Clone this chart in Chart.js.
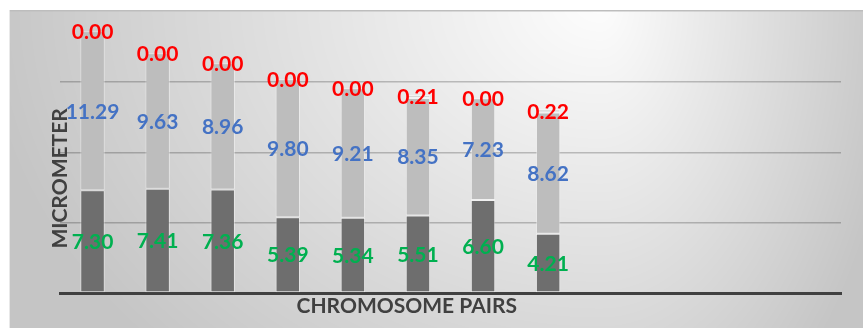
<!DOCTYPE html>
<html>
<head>
<meta charset="utf-8">
<script src="https://cdn.jsdelivr.net/npm/chart.js@4/dist/chart.umd.min.js"></script>
<style>
  html, body { margin: 0; padding: 0; background: #ffffff; }
  #wrap { width: 863px; height: 328px; }
</style>
</head>
<body>
<div id="wrap"><canvas id="chart" width="863" height="328"></canvas></div>
<script>
// Chromosome pairs on the category axis (room is left for 12 slots, 8 measured)
const pairs = ['1', '2', '3', '4', '5', '6', '7', '8', '9', '10', '11', '12'];

// Arm lengths in micrometres, one value per chromosome pair
const shortArm = [7.30, 7.41, 7.36, 5.39, 5.34, 5.51, 6.60, 4.21];
const longArm = [11.29, 9.63, 8.96, 9.80, 9.21, 8.35, 7.23, 8.62];
const satellite = [0.00, 0.00, 0.00, 0.00, 0.00, 0.21, 0.00, 0.22];

// Value axis range and step
const yMin = 0;
const yMax = 20;
const yStep = 5;

const LABEL_FONT = 'bold 21px Lato, "Open Sans", sans-serif';
const TITLE_FONT = 'bold 21px Lato, "Open Sans", sans-serif';

// Grey panel with a soft light spot near the upper right
const panelBackground = {
  id: 'panelBackground',
  beforeDraw(chart) {
    const ctx = chart.ctx;
    const W = chart.width, H = chart.height;
    const img = ctx.createImageData(W, H);
    const d = img.data;
    const x0 = 9, y0 = 10;
    const cx = 600, cy = 0;
    const light = 253, dark = 197;
    for (let y = 0; y < H; y++) {
      for (let x = 0; x < W; x++) {
        const i = (y * W + x) * 4;
        let v = 255;
        if (x >= x0 && y >= y0) {
          const dx = (x - cx) / (x < cx ? 620 : 300);
          const dy = (y - cy) / 500;
          const t = Math.min(1, Math.sqrt(dx * dx + dy * dy));
          v = light - t * (light - dark);
        }
        d[i] = d[i + 1] = d[i + 2] = Math.round(v);
        d[i + 3] = 255;
      }
    }
    ctx.putImageData(img, 0, 0);
    ctx.save();
    ctx.fillStyle = '#bdbdbd';
    ctx.fillRect(x0, y0, W - x0, 1.5);
    ctx.fillStyle = 'rgba(255,255,255,0.6)';
    ctx.fillRect(x0, y0, 1, H - y0);
    ctx.restore();
  }
};

// Value labels centred on every bar segment
const segmentLabels = {
  id: 'segmentLabels',
  afterDatasetsDraw(chart) {
    const ctx = chart.ctx;
    ctx.save();
    ctx.font = LABEL_FONT;
    ctx.textAlign = 'center';
    ctx.textBaseline = 'middle';
    chart.data.datasets.forEach((ds, di) => {
      const meta = chart.getDatasetMeta(di);
      meta.data.forEach((el, i) => {
        const v = ds.data[i];
        if (v === null || v === undefined) return;
        const p = el.getProps(['x', 'y', 'base'], true);
        ctx.fillStyle = ds.labelColor;
        ctx.fillText(v.toFixed(2), p.x, (p.y + p.base) / 2 + 1);
      });
    });
    ctx.restore();
  }
};

// Axis titles
const axisTitles = {
  id: 'axisTitles',
  afterDraw(chart) {
    const a = chart.chartArea;
    const ctx = chart.ctx;
    ctx.save();
    ctx.font = TITLE_FONT;
    ctx.fillStyle = '#404040';
    ctx.textAlign = 'center';
    ctx.textBaseline = 'alphabetic';
    ctx.fillText('CHROMOSOME PAIRS', a.left + (a.right - a.left) * 0.444, a.bottom + 20);
    ctx.translate(a.left + 7, a.top + (a.bottom - a.top) * 0.593);
    ctx.rotate(-Math.PI / 2);
    ctx.fillText('MICROMETER', 0, 0);
    ctx.restore();
  }
};

const barStyle = {
  stack: 'arm',
  borderColor: 'rgba(255,255,255,0.45)',
  borderWidth: 1,
  borderSkipped: false,
  categoryPercentage: 1.0,
  barPercentage: 0.376
};

new Chart(document.getElementById('chart'), {
  type: 'bar',
  data: {
    labels: pairs,
    datasets: [
      Object.assign({ label: 'Short arm', data: shortArm, backgroundColor: '#6e6e6e', labelColor: '#00B050' }, barStyle),
      Object.assign({ label: 'Long arm', data: longArm, backgroundColor: '#bdbdbd', labelColor: '#4472C4' }, barStyle),
      Object.assign({ label: 'Satellite', data: satellite, backgroundColor: '#d6d6d6', labelColor: '#FF0000' }, barStyle)
    ]
  },
  options: {
    responsive: false,
    animation: false,
    events: [],
    layout: { padding: { left: 60, right: 22, top: 11.5, bottom: 35 } },
    plugins: {
      legend: { display: false },
      tooltip: { enabled: false },
      title: { display: false }
    },
    scales: {
      x: {
        stacked: true,
        grid: { display: false, drawTicks: false },
        ticks: { display: false },
        border: { display: true, color: '#404040', width: 3 }
      },
      y: {
        stacked: true,
        min: yMin,
        max: yMax,
        ticks: { display: false, stepSize: yStep },
        grid: {
          drawTicks: false,
          lineWidth: 1.5,
          color: (c) => (c.tick && c.tick.value === yMax) ? 'rgba(0,0,0,0)' : 'rgba(0,0,0,0.22)'
        },
        border: { display: false }
      }
    }
  },
  plugins: [panelBackground, segmentLabels, axisTitles]
});
</script>
</body>
</html>
